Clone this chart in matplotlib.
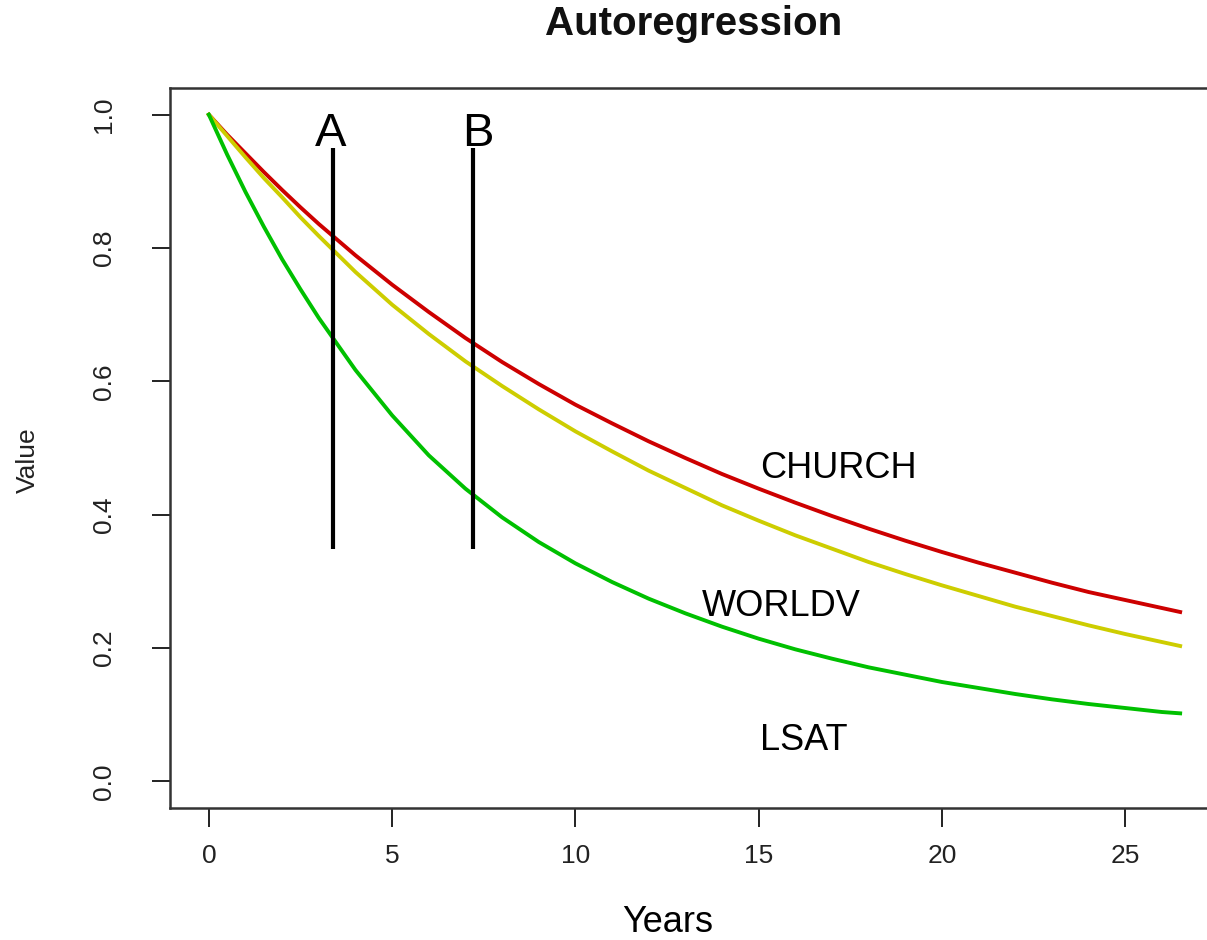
import matplotlib
matplotlib.use("Agg")
import matplotlib.pyplot as plt

# ---- data ----
years = [0, 0.5, 1, 1.5, 2, 2.5, 3, 4, 5, 6, 7, 8, 9, 10, 11, 12, 13, 14, 15,
         16, 17, 18, 19, 20, 21, 22, 23, 24, 25, 26, 26.5]
church = [1.000, 0.970, 0.942, 0.914, 0.887, 0.861, 0.836, 0.789, 0.745, 0.704,
          0.665, 0.629, 0.596, 0.565, 0.537, 0.510, 0.485, 0.461, 0.439, 0.418,
          0.398, 0.379, 0.361, 0.344, 0.328, 0.313, 0.298, 0.284, 0.272, 0.260,
          0.254]
worldv = [1.000, 0.968, 0.936, 0.905, 0.876, 0.846, 0.818, 0.764, 0.715, 0.671,
          0.630, 0.593, 0.558, 0.525, 0.495, 0.466, 0.440, 0.414, 0.391, 0.369,
          0.349, 0.329, 0.311, 0.294, 0.278, 0.262, 0.248, 0.234, 0.221, 0.209,
          0.203]
lsat = [1.000, 0.940, 0.884, 0.832, 0.783, 0.738, 0.695, 0.617, 0.549, 0.489,
        0.439, 0.396, 0.359, 0.327, 0.299, 0.274, 0.252, 0.232, 0.214, 0.198,
        0.184, 0.171, 0.160, 0.149, 0.140, 0.131, 0.123, 0.116, 0.110, 0.104,
        0.102]

markers_x = [3.38, 7.20]
marker_labels = ["A", "B"]
marker_label_x = [3.33, 7.33]
marker_ymin, marker_ymax = 0.348, 0.950

series_labels = ["CHURCH", "WORLDV", "LSAT"]
series_label_pos = [(15.05, 0.455), (13.44, 0.248), (15.05, 0.0465)]

xticks = [0, 5, 10, 15, 20, 25]
yticks = [0.0, 0.2, 0.4, 0.6, 0.8, 1.0]

plt.rcParams['font.family'] = ['Liberation Sans', 'DejaVu Sans']

W, H = 1207, 940
fig = plt.figure(figsize=(W / 100, H / 100), dpi=100)
left, right, top, bottom = 170, 1219, 88, 808
ax = fig.add_axes([left / W, 1 - bottom / H, (right - left) / W, (bottom - top) / H])

ax.plot(years, church, color="#CD0000", lw=2.8, solid_joinstyle="round")
ax.plot(years, worldv, color="#CDCD00", lw=2.8, solid_joinstyle="round")
ax.plot(years, lsat, color="#00C000", lw=2.8, solid_joinstyle="round")

for xm, lx, lab in zip(markers_x, marker_label_x, marker_labels):
    ax.vlines(xm, marker_ymin, marker_ymax, color="black", lw=3.0)
    ax.text(lx, 0.953, lab, fontsize=34, ha="center", va="baseline", color="black")

for lab, (tx, ty) in zip(series_labels, series_label_pos):
    ax.text(tx, ty, lab, fontsize=26, ha="left", va="baseline", color="black")

ax.set_xlim(-1.06, 27.56)
ax.set_ylim(-0.04, 1.04)
ax.set_xticks(xticks)
ax.set_xticklabels([str(v) for v in xticks])
ax.set_yticks(yticks)
ax.set_yticklabels([f"{v:.1f}" for v in yticks], rotation=90, va="center")

ax.tick_params(axis="x", length=14, width=1.4, pad=12, labelsize=19, colors="#222222")
ax.tick_params(axis="y", length=13, width=1.4, pad=26, labelsize=19, colors="#222222")
for s in ax.spines.values():
    s.set_linewidth(1.8)
    s.set_color("#333333")

fig.text(694 / W, 1 - 24 / H, "Autoregression", fontsize=29, fontweight="bold",
         ha="center", va="center", color="#111111")
fig.text(668 / W, 1 - 922 / H, "Years", fontsize=26, ha="center", va="center")
fig.text(28 / W, 1 - 460 / H, "Value", fontsize=19, rotation=90, ha="center",
         va="center", color="#222222")

fig.savefig("out.png", dpi=100)
